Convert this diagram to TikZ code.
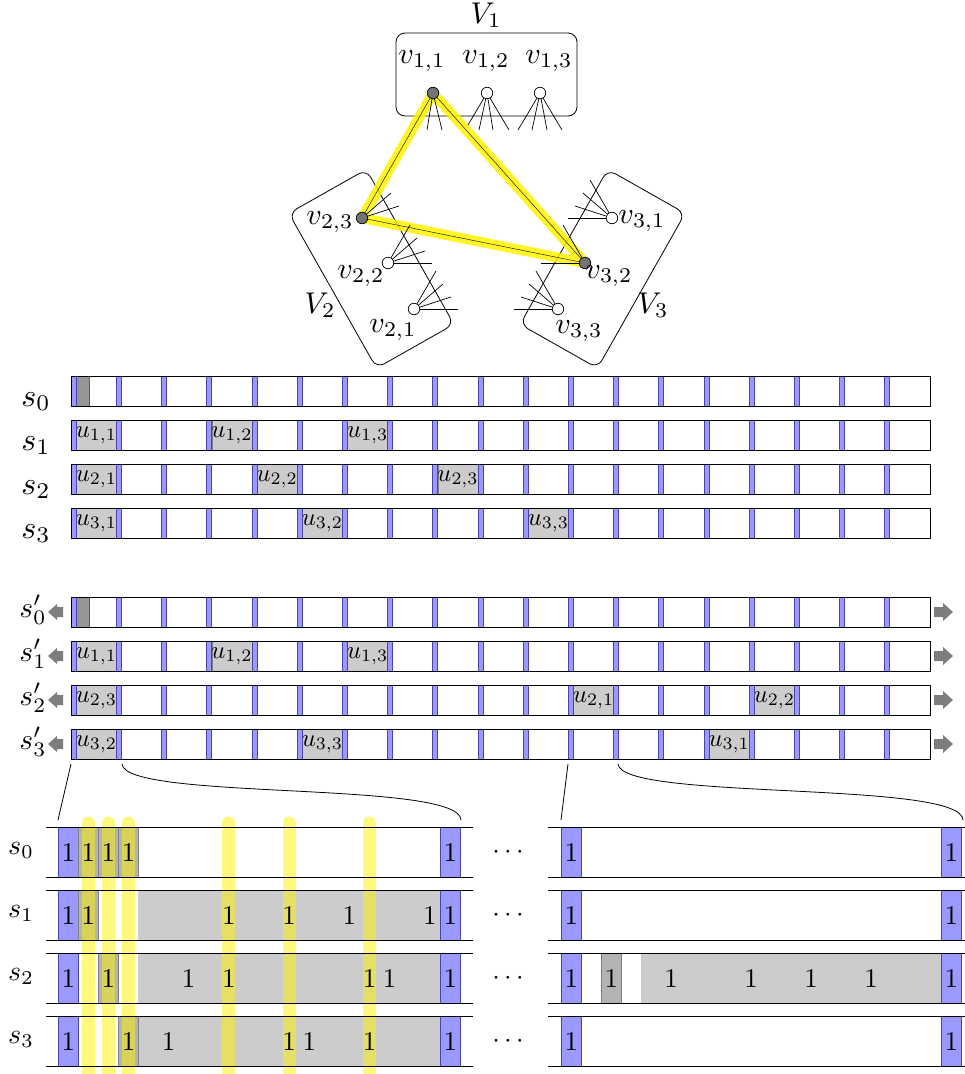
\documentclass[tikz,border=0pt]{standalone}
\pgfdeclarelayer{bg}
\pgfsetlayers{bg,main}
\definecolor{barblue}{RGB}{153,153,255}
\definecolor{barline}{RGB}{70,70,170}
\definecolor{litegray}{RGB}{204,204,204}
\definecolor{midgray}{RGB}{179,179,179}
\definecolor{deepgray}{RGB}{150,150,150}
\definecolor{vgray}{RGB}{115,115,115}
\definecolor{arrgray}{RGB}{125,125,125}
\begin{document}
\begin{tikzpicture}[x=1pt,y=-1pt,line width=0.8pt,
 vtx/.style={circle,draw,fill=white,inner sep=0pt,minimum size=11.5pt,line width=0.7pt},
 vsel/.style={vtx,fill=vgray},
 glab/.style={scale=3,inner sep=0pt},
 setbox/.style={draw,rounded corners=9pt,inner sep=0pt,line width=0.8pt},
 stub/.style={line width=0.7pt},
 hl/.style={draw=yellow,opacity=0.85,line width=10pt,line join=round},
 bbar/.style={fill=barblue,draw=barline,line width=0.5pt},
 ucell/.style={anchor=north west,minimum width=40.2pt,minimum height=30pt,inner sep=0pt,fill=litegray,draw=gray,line width=0.4pt},
 utext/.style={scale=2.5,inner sep=0pt},
 slab/.style={anchor=base,inner sep=0pt,scale=3.2},
 plab/.style={anchor=base,inner sep=0pt,scale=2.95},
 blab/.style={anchor=base,inner sep=0pt,scale=2.8},
 onecell/.style={anchor=north west,minimum width=20.1pt,minimum height=50pt,inner sep=0pt},
 onetext/.style={scale=2.7,inner sep=0pt},
 bluecell/.style={onecell,fill=barblue,draw=barline,line width=0.6pt},
 darkcell/.style={onecell,fill=midgray,draw=gray,line width=0.4pt},
 ybar/.style={draw=yellow,opacity=0.5,line width=13pt,line cap=round},
 sarrow/.style={fill=arrgray},
 zoomline/.style={line width=0.8pt}
]
\useasboundingbox (0,0) rectangle (965,1074);

% ---------------- graph ----------------
\node[vsel] (v11) at (433,93) {};
\node[vtx] (v12) at (487,93) {};
\node[vtx] (v13) at (540,93) {};
\node[vsel] (v23) at (362,218) {};
\node[vtx] (v22) at (388,263) {};
\node[vtx] (v21) at (414,309) {};
\node[vtx] (v31) at (612,218) {};
\node[vsel] (v32) at (585,263) {};
\node[vtx] (v33) at (558,309) {};

\begin{pgfonlayer}{bg}
\node[setbox,minimum width=181pt,minimum height=83pt] (V1box) at (486.5,74.5) {};
\node[setbox,minimum width=178pt,minimum height=89pt,rotate=-60.5] (V2box) at (371.4,268.8) {};
\node[setbox,minimum width=178pt,minimum height=89pt,rotate=60.5] (V3box) at (602.6,268.8) {};
\draw[hl] (v11.center) -- (v23.center) -- (v32.center) -- cycle;
\end{pgfonlayer}

\draw (v11) -- (v23);
\draw (v11) -- (v32);
\draw (v23) -- (v32);

\foreach \dx/\dy in {-6/37,9/37} \draw[stub] (v11) -- +(\dx,\dy);
\foreach \dx/\dy in {-19/32,-8/37,6/37,22/37} \draw[stub] (v12) -- +(\dx,\dy);
\foreach \dx/\dy in {-22/37,-8/37,7/37,22/37} \draw[stub] (v13) -- +(\dx,\dy);
\foreach \dx/\dy in {29/-25,37/-12} \draw[stub] (v23) -- +(\dx,\dy);
\foreach \dx/\dy in {22/-38,29/-25,37/-12,44/0} {
  \draw[stub] (v22) -- +(\dx,\dy);
  \draw[stub] (v21) -- +(\dx,\dy);
  \draw[stub] (v31) -- +(-\dx,\dy);
  \draw[stub] (v33) -- +(-\dx,\dy);
}
\foreach \dx/\dy in {-22/-38,-44/0} \draw[stub] (v32) -- +(\dx,\dy);

\node[glab] (lV1) at (486,15) {$V_1$};
\node[glab] (l11) at (422,61) {$v_{1,1}$};
\node[glab] (l12) at (486,61) {$v_{1,2}$};
\node[glab] (l13) at (549,61) {$v_{1,3}$};
\node[glab] (l23) at (330,222) {$v_{2,3}$};
\node[glab] (l22) at (361,276) {$v_{2,2}$};
\node[glab] (l21) at (393,330) {$v_{2,1}$};
\node[glab] (lV2) at (320,305) {$V_2$};
\node[glab] (l31) at (642,221) {$v_{3,1}$};
\node[glab] (l32) at (609,276) {$v_{3,2}$};
\node[glab] (l33) at (579,331) {$v_{3,3}$};
\node[glab] (lV3) at (653,305) {$V_3$};

% ---------------- strings ----------------
\foreach \t in {376,420,464,508,597,641,685,729}
  \filldraw[fill=white,draw=black] (71,\t) rectangle (929.8,\t+30);

\filldraw[fill=deepgray,draw=gray!70!black,line width=0.4pt] (76,376) rectangle (89,406);
\filldraw[fill=deepgray,draw=gray!70!black,line width=0.4pt] (76,597) rectangle (89,627);

\foreach \nm/\k/\t/\lab in {a11/0/420/{1,1},a12/3/420/{1,2},a13/6/420/{1,3},
    a21/0/464/{2,1},a22/4/464/{2,2},a23/8/464/{2,3},
    a31/0/508/{3,1},a32/5/508/{3,2},a33/10/508/{3,3},
    b11/0/641/{1,1},b12/3/641/{1,2},b13/6/641/{1,3},
    b23/0/685/{2,3},b21/11/685/{2,1},b22/15/685/{2,2},
    b32/0/729/{3,2},b33/5/729/{3,3},b31/14/729/{3,1}} {
  \node[ucell] (\nm) at ({76+45.2*\k},\t) {};
  \node[utext] (\nm t) at (\nm) {$u_{\lab}$};
}

\foreach \t in {376,420,464,508,597,641,685,729} {
  \foreach \k in {0,...,18}
    \filldraw[bbar] ({71+45.2*\k},\t) rectangle ++(5,30);
  \draw (71,\t) rectangle (929.8,\t+30);
}

\node[slab] (ls0) at (36,406) {$s_0$};
\node[slab] (ls1) at (36,450) {$s_1$};
\node[slab] (ls2) at (36,494) {$s_2$};
\node[slab] (ls3) at (36,538) {$s_3$};
\node[plab] (lp0) at (33,617) {$s'_0$};
\node[plab] (lp1) at (33,661) {$s'_1$};
\node[plab] (lp2) at (33,705) {$s'_2$};
\node[plab] (lp3) at (33,749) {$s'_3$};

\foreach \c in {612,656,700,744} {
  \fill[sarrow] (63,\c-5) -- (57,\c-5) -- (57,\c-8) -- (48,\c) -- (57,\c+8) -- (57,\c+5) -- (63,\c+5) -- cycle;
  \fill[sarrow] (934,\c-5) -- (943,\c-5) -- (943,\c-9) -- (953,\c) -- (943,\c+9) -- (943,\c+5) -- (934,\c+5) -- cycle;
}

% ---------------- zoom connectors ----------------
\coordinate (zA1) at (71,764);  \coordinate (zA2) at (58,820);
\coordinate (zB1) at (122,764); \coordinate (zB2) at (461,820);
\coordinate (zC1) at (568,764); \coordinate (zC2) at (561,820);
\coordinate (zD1) at (618,764); \coordinate (zD2) at (963,820);
\draw[zoomline] (zA1) -- (zA2);
\draw[zoomline] (zB1) .. controls +(3,37) and +(-1,-40) .. (zB2);
\draw[zoomline] (zC1) -- (zC2);
\draw[zoomline] (zD1) .. controls +(3,37) and +(-1,-40) .. (zD2);

% ---------------- zoomed bit rows ----------------
\fill[litegray] (138.4,890) rectangle (439.9,940);
\fill[litegray] (138.4,953) rectangle (439.9,1003);
\fill[litegray] (138.4,1016) rectangle (439.9,1066);
\fill[litegray] (641,953) rectangle (941,1003);

\foreach \t in {827,890,953,1016} {
  \node[bluecell] (bl\t) at (58,\t) {};
  \node[bluecell] (br\t) at (439.9,\t) {};
  \node[bluecell,minimum width=20pt] (cl\t) at (561,\t) {};
  \node[bluecell,minimum width=20pt] (cr\t) at (941,\t) {};
}
\foreach \nm/\x/\t in {d01/78.1/827,d02/98.2/827,d03/118.3/827,d11/78.1/890,d22/98.2/953,d33/118.3/1016,e22/601/953}
  \node[darkcell] (\nm) at (\x,\t) {};

% yellow columns: over the fills, under the lines and digits
\foreach \i in {1,2,3,8,11,15}
  \draw[ybar] ({68.05+20.1*\i},823) -- ({68.05+20.1*\i},1090);

\foreach \t in {827,890,953,1016} {
  \draw (46,\t) -- (473,\t);
  \draw (46,\t+50) -- (473,\t+50);
  \draw (548,\t) -- (965,\t);
  \draw (548,\t+50) -- (965,\t+50);
  \node[onetext] (blt\t) at (bl\t) {1};
  \node[onetext] (brt\t) at (br\t) {1};
  \node[onetext] (clt\t) at (cl\t) {1};
  \node[onetext] (crt\t) at (cr\t) {1};
}
\foreach \nm in {d01,d02,d03,d11,d22,d33,e22}
  \node[onetext] (\nm t) at (\nm) {1};

\foreach \i in {8,11,14,18} \node[onetext] (o1-\i) at ({68.05+20.1*\i},915) {1};
\foreach \i in {6,8,15,16} \node[onetext] (o2-\i) at ({68.05+20.1*\i},978) {1};
\foreach \i in {5,11,12,15} \node[onetext] (o3-\i) at ({68.05+20.1*\i},1041) {1};
\foreach \j in {5,9,12,15} \node[onetext] (r2-\j) at ({571+20*\j},978) {1};

\node[scale=2.7] (dt0) at (508,852) {$\cdots$};
\node[scale=2.7] (dt1) at (508,915) {$\cdots$};
\node[scale=2.7] (dt2) at (508,978) {$\cdots$};
\node[scale=2.7] (dt3) at (508,1041) {$\cdots$};

\node[blab] (bs0) at (21,854) {$s_0$};
\node[blab] (bs1) at (21,917) {$s_1$};
\node[blab] (bs2) at (21,980) {$s_2$};
\node[blab] (bs3) at (21,1043) {$s_3$};

\end{tikzpicture}
\end{document}
